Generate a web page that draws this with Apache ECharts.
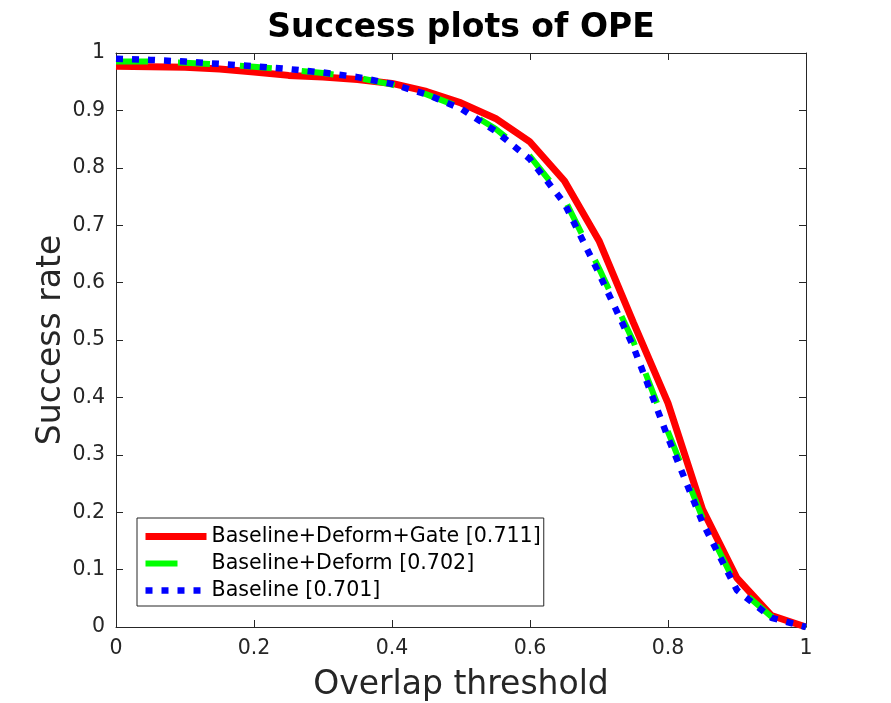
<!DOCTYPE html>
<html>
<head>
<meta charset="utf-8">
<title>Success plots of OPE</title>
<script src="https://cdn.jsdelivr.net/npm/echarts@6.0.0/dist/echarts.min.js"></script>
<style>
  html, body { margin: 0; padding: 0; background: #fff; }
  #main { width: 891px; height: 703px; }
</style>
</head>
<body>
<div id="main"></div>
<script>
// overlap thresholds (x axis)
var thresholds = [0, 0.05, 0.1, 0.15, 0.2, 0.25, 0.3, 0.35, 0.4, 0.45, 0.5,
  0.55, 0.6, 0.65, 0.7, 0.75, 0.8, 0.85, 0.9, 0.95, 1];

// success rate of each tracker
var gateRate = [0.977, 0.976, 0.975, 0.972, 0.967, 0.961, 0.958, 0.954, 0.947, 0.933, 0.913,
  0.886, 0.845, 0.777, 0.673, 0.530, 0.390, 0.205, 0.085, 0.020, 0.0];
var deformRate = [0.985, 0.985, 0.983, 0.980, 0.976, 0.971, 0.965, 0.957, 0.945, 0.928, 0.905,
  0.868, 0.820, 0.745, 0.625, 0.497, 0.340, 0.190, 0.070, 0.018, 0.0];
var baseRate = [0.990, 0.988, 0.985, 0.981, 0.977, 0.972, 0.966, 0.958, 0.946, 0.928, 0.903,
  0.864, 0.815, 0.738, 0.616, 0.488, 0.330, 0.182, 0.064, 0.016, 0.0];

var seriesNames = ['Baseline+Deform+Gate [0.711]', 'Baseline+Deform [0.702]', 'Baseline [0.701]'];
var xTicks = [0, 0.2, 0.4, 0.6, 0.8, 1];
var yTicks = [0, 0.1, 0.2, 0.3, 0.4, 0.5, 0.6, 0.7, 0.8, 0.9, 1];

function pairs(ys) {
  return thresholds.map(function (x, i) { return [x, ys[i]]; });
}

var axisColor = '#262626';
var font = 'DejaVu Sans';

function boxAxis(pos, ticks, showLabel) {
  return {
    type: 'value',
    position: pos,
    min: ticks[0],
    max: ticks[ticks.length - 1],
    interval: ticks[1] - ticks[0],
    axisLine: { show: true, onZero: false, lineStyle: { color: axisColor, width: 1 } },
    axisTick: { show: true, inside: true, length: 7, lineStyle: { color: axisColor } },
    axisLabel: { show: showLabel, color: axisColor, fontFamily: font, fontSize: 20.5 },
    splitLine: { show: false }
  };
}

var myChart = echarts.init(document.getElementById('main'));

var xBottom = boxAxis('bottom', xTicks, true);
xBottom.axisLabel.margin = 11;
xBottom.name = 'Overlap threshold';
xBottom.nameLocation = 'middle';
xBottom.nameGap = 42;
xBottom.nameTextStyle = { color: axisColor, fontFamily: font, fontSize: 33 };

var yLeft = boxAxis('left', yTicks, true);
yLeft.axisLabel.margin = 11;
yLeft.name = 'Success rate';
yLeft.nameLocation = 'middle';
yLeft.nameGap = 48;
yLeft.nameMoveOverlap = false;
yLeft.nameTextStyle = { color: axisColor, fontFamily: font, fontSize: 33 };

var option = {
  animation: false,
  backgroundColor: '#fff',
  title: {
    text: 'Success plots of OPE',
    left: 461,
    textAlign: 'center',
    top: 12,
    padding: 0,
    textStyle: { color: '#000', fontFamily: font, fontWeight: 'bold', fontSize: 33 }
  },
  grid: {
    left: 116, top: 53, width: 690, height: 574,
    containLabel: false,
    outerBoundsMode: 'none'
  },
  xAxis: [xBottom, boxAxis('top', xTicks, false)],
  yAxis: [yLeft, boxAxis('right', yTicks, false)],
  legend: {
    data: seriesNames,
    orient: 'vertical',
    left: 137,
    top: 518,
    padding: [8, 3, 5, 5],
    itemWidth: 61,
    itemHeight: 14,
    itemGap: 6,
    backgroundColor: '#fff',
    borderColor: axisColor,
    borderWidth: 1,
    borderRadius: 0,
    lineStyle: { width: 'inherit' },
    itemStyle: { opacity: 0 },
    textStyle: { color: '#000', fontFamily: font, fontSize: 20.6, lineHeight: 20 }
  },
  series: [
    {
      name: seriesNames[0],
      type: 'line',
      data: pairs(gateRate),
      symbol: 'none',
      lineStyle: { color: '#ff0000', width: 7 },
      itemStyle: { color: '#ff0000' },
      z: 2
    },
    {
      name: seriesNames[1],
      type: 'line',
      data: pairs(deformRate),
      symbol: 'none',
      lineStyle: { color: '#00ff00', width: 6, type: [32, 30] },
      itemStyle: { color: '#00ff00' },
      z: 3
    },
    {
      name: seriesNames[2],
      type: 'line',
      data: pairs(baseRate),
      symbol: 'none',
      lineStyle: { color: '#0000ff', width: 6.5, type: [7, 9] },
      itemStyle: { color: '#0000ff' },
      z: 4
    }
  ]
};
myChart.setOption(option);
</script>
</body>
</html>
